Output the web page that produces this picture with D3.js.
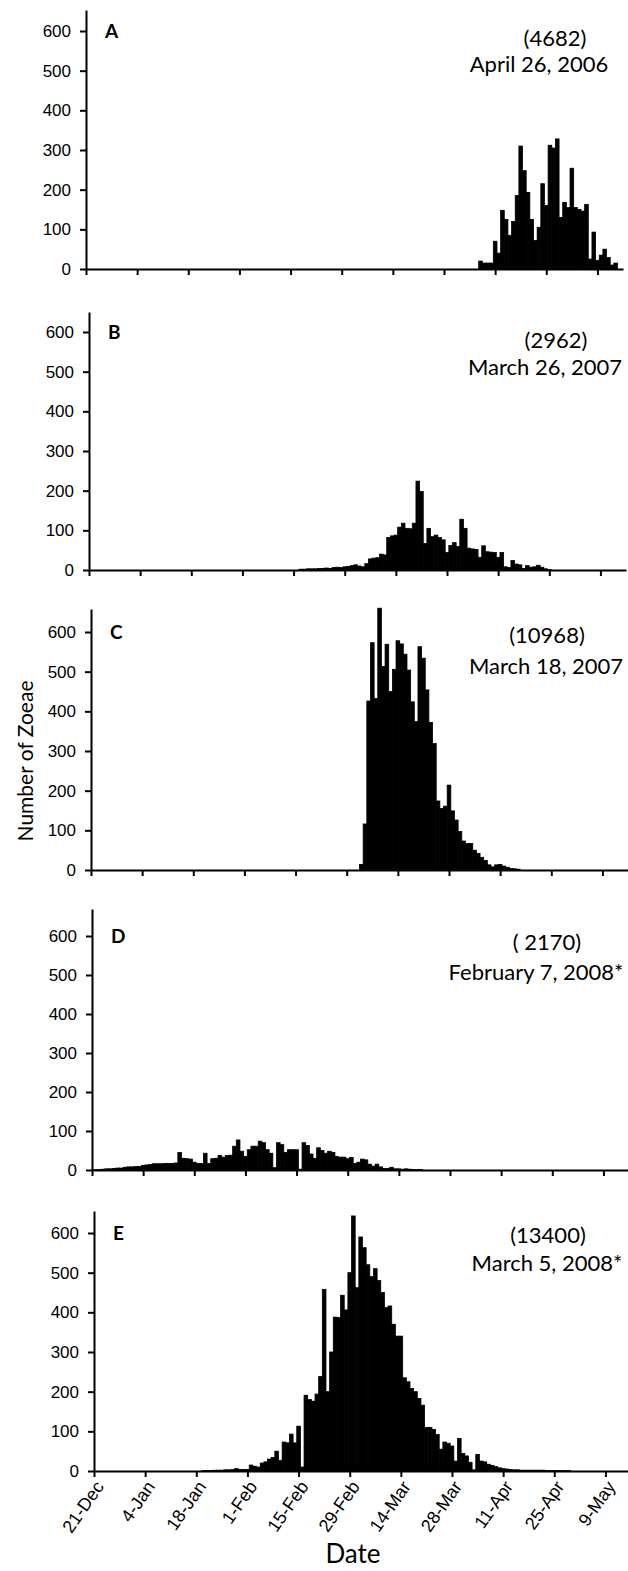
<!DOCTYPE html>
<html>
<head>
<meta charset="utf-8">
<script src="https://cdn.jsdelivr.net/npm/d3@7"></script>
<style>
  body { margin: 0; background: #fff; }
  svg { display: block; font-family: Lato, "Open Sans", sans-serif; }
</style>
</head>
<body>
<svg id="chart" width="628" height="1571"></svg>
<script>
// x axis: day number, 0 = 21-Dec, one bar per day
const tickDays = [0, 14, 28, 42, 56, 70, 84, 98, 112, 126, 140];
const tickLabels = ["21-Dec", "4-Jan", "18-Jan", "1-Feb", "15-Feb", "29-Feb",
    "14-Mar", "28-Mar", "11-Apr", "25-Apr", "9-May"];
const yTicks = [0, 100, 200, 300, 400, 500, 600];

const panelLetters = ["A", "B", "C", "D", "E"];
const panelTotals = ["(4682)", "(2962)", "(10968)", "( 2170)", "(13400)"];
const panelDates = ["April 26, 2006", "March 26, 2007", "March 18, 2007",
    "February 7, 2008*", "March 5, 2008*"];

// first day of each series
const panelStart = [108, 58, 74, 0, 30];

const countsA = [20, 15, 15, 15, 70, 40, 148, 125, 85, 120, 185, 310, 248, 193, 125, 72,
    105, 215, 160, 312, 305, 328, 130, 168, 155, 254, 155, 150, 146, 163, 25, 93, 22,
    35, 50, 29, 10, 15];
const countsB = [2, 2, 3, 3, 3, 4, 4, 5, 4, 6, 7, 6, 8, 9, 11, 13, 10, 8, 16, 28, 30, 31,
    40, 38, 82, 86, 88, 108, 118, 105, 104, 118, 224, 198, 67, 105, 84, 88, 82, 76, 44,
    62, 69, 59, 128, 105, 55, 53, 52, 32, 61, 46, 45, 44, 32, 44, 8, 6, 24, 15, 13, 4,
    11, 7, 8, 12, 7, 3, 1];
const countsC = [14, 116, 426, 573, 432, 660, 513, 569, 450, 506, 578, 570, 544, 504,
    424, 374, 563, 534, 454, 372, 319, 174, 155, 161, 214, 149, 126, 97, 73, 67, 67, 50,
    42, 32, 24, 13, 8, 13, 14, 10, 7, 4, 3, 2];
const countsD = [0, 1, 1, 2, 3, 3, 4, 5, 5, 7, 8, 8, 9, 9, 12, 13, 14, 16, 16, 16, 17, 17,
    17, 18, 45, 30, 29, 28, 20, 17, 17, 43, 17, 29, 30, 37, 33, 37, 38, 61, 77, 48, 35,
    52, 61, 61, 74, 70, 52, 43, 6, 70, 65, 45, 52, 52, 52, 2, 70, 63, 41, 30, 57, 50, 43,
    48, 45, 35, 33, 33, 29, 32, 17, 20, 28, 26, 15, 10, 15, 8, 4, 4, 7, 3, 3, 2, 3, 2, 1,
    1, 1];
const countsE = [1, 1, 1, 2, 2, 2, 3, 3, 4, 6, 4, 4, 4, 15, 12, 10, 20, 23, 30, 34, 50,
    27, 73, 71, 93, 71, 113, 10, 191, 180, 176, 194, 238, 458, 200, 300, 388, 387, 443,
    406, 500, 643, 462, 590, 563, 520, 490, 510, 480, 450, 412, 416, 370, 340, 340, 235,
    225, 208, 200, 183, 166, 110, 110, 105, 92, 55, 73, 70, 63, 25, 82, 44, 38, 22, 3, 42,
    25, 23, 17, 14, 11, 8, 6, 5, 4, 3, 3, 2, 2, 2, 2, 2, 2, 2, 1, 1, 1, 1, 1, 1, 1];
const panelCounts = [countsA, countsB, countsC, countsD, countsE];

// panel placement (scanned figure, panels are slightly offset)
const layout = [
    { left: 86, base: 269, y600: 31, top: 10, totalX: 555, totalY: 46, dateX: 539, dateY: 72 },
    { left: 89, base: 570, y600: 332, top: 312, totalX: 556, totalY: 348, dateX: 545, dateY: 375 },
    { left: 91, base: 870, y600: 632, top: 609, totalX: 547, totalY: 643, dateX: 546, dateY: 674 },
    { left: 92, base: 1170, y600: 936, top: 909, totalX: 547, totalY: 950, dateX: 536, dateY: 980 },
    { left: 94, base: 1471, y600: 1233, top: 1211, totalX: 548, totalY: 1243, dateX: 547, dateY: 1271 }
];
const plotWidth = 537;

const svg = d3.select('#chart');

panelCounts.forEach((counts, i) => {
    const L = layout[i];
    const last = i === panelCounts.length - 1;

    const xScale = d3.scaleLinear()
        .domain([0, 147])
        .range([L.left, L.left + plotWidth]);

    const yScale = d3.scaleLinear()
        .domain([0, 600])
        .range([L.base, L.y600]);
    yScale.domain([0, yScale.invert(L.top)]).range([L.base, L.top]);

    const g = svg.append('g').attr('class', `panel panel-${panelLetters[i]}`);

    const data = counts.map((v, k) => ({ day: panelStart[i] + k, value: v }));
    const x0 = d => Math.max(L.left, xScale(d.day - 0.5));

    g.selectAll('rect')
        .data(data)
        .join('rect')
        .attr('x', x0)
        .attr('y', d => yScale(d.value))
        .attr('width', d => xScale(d.day + 0.5) - x0(d))
        .attr('height', d => yScale(0) - yScale(d.value))
        .attr('fill', '#000')
        .attr('stroke', '#000')
        .attr('stroke-width', 0.8);

    // Axes
    const xAxis = d3.axisBottom(xScale)
        .tickValues(tickDays)
        .tickSize(6)
        .tickSizeOuter(0)
        .tickFormat((d, k) => last ? tickLabels[k] : '');

    const yAxis = d3.axisLeft(yScale)
        .tickValues(yTicks)
        .tickSize(6)
        .tickSizeOuter(0)
        .tickPadding(9);

    const gx = g.append('g')
        .attr('transform', `translate(0,${L.base})`)
        .call(xAxis);

    const gy = g.append('g')
        .attr('transform', `translate(${L.left},0)`)
        .call(yAxis);

    [gx, gy].forEach(a => {
        a.selectAll('path, line').attr('stroke', '#000').attr('stroke-width', 2);
        a.selectAll('text').attr('fill', '#000');
    });

    gy.selectAll('text').style('font-size', '17px');

    if (last) {
        gx.selectAll('text')
            .style('font-size', '18px')
            .style('text-anchor', 'end')
            .attr('x', 0)
            .attr('y', 0)
            .attr('dy', '0.35em')
            .attr('transform', 'translate(5,12) rotate(-55)');
    }

    // Panel letter and annotation
    g.append('text')
        .attr('x', L.left + 19)
        .attr('y', L.y600 + 7)
        .style('font-size', '19px')
        .style('font-weight', 'bold')
        .text(panelLetters[i]);

    g.append('text')
        .attr('x', L.totalX)
        .attr('y', L.totalY)
        .attr('text-anchor', 'middle')
        .style('font-size', '22px')
        .text(panelTotals[i]);

    g.append('text')
        .attr('x', L.dateX)
        .attr('y', L.dateY)
        .attr('text-anchor', 'middle')
        .style('font-size', '22px')
        .text(panelDates[i]);
});

// Axis titles
svg.append('text')
    .attr('transform', 'translate(33,761) rotate(-90)')
    .attr('text-anchor', 'middle')
    .style('font-size', '21px')
    .text('Number of Zoeae');

svg.append('text')
    .attr('x', 353)
    .attr('y', 1563)
    .attr('text-anchor', 'middle')
    .style('font-size', '26px')
    .text('Date');
</script>
</body>
</html>
